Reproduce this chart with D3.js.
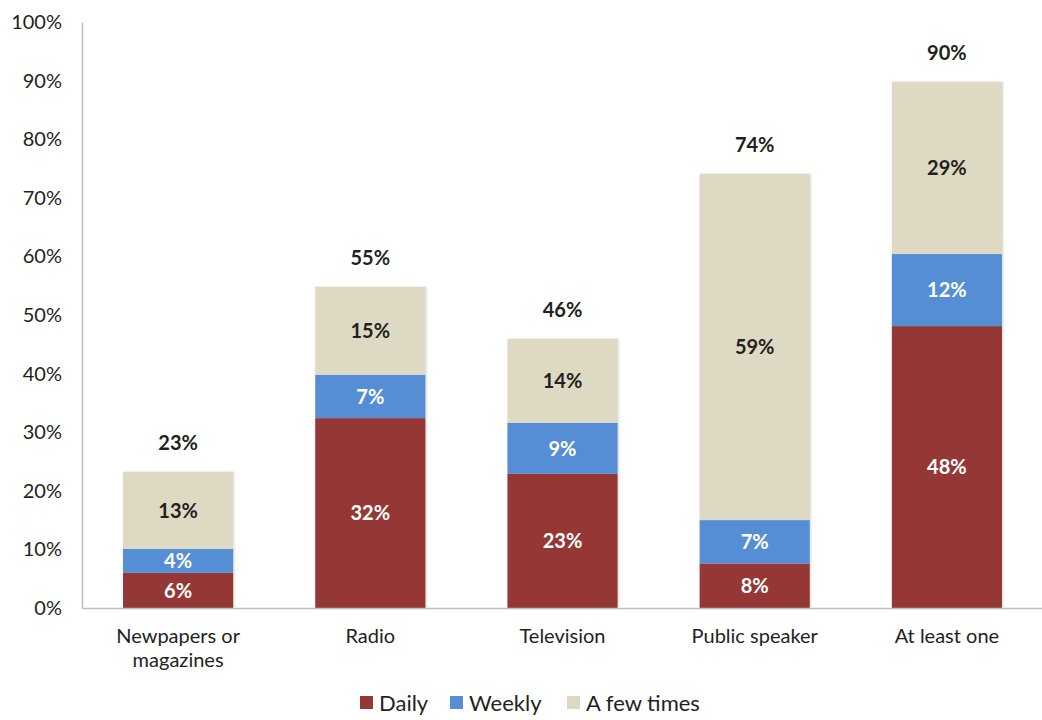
<!DOCTYPE html>
<html lang="en">
<head>
    <meta charset="UTF-8">
    <title>Media exposure</title>
    <style>
        body { margin: 0; background: #fff; }
        text { font-family: Lato, "Open Sans", sans-serif; fill: #231f20; }
    </style>
</head>
<body>
    <div class="container"></div>
    <script src="https://cdn.jsdelivr.net/npm/d3@7"></script>
    <script>
        const categories = [["Newpapers or", "magazines"], ["Radio"], ["Television"], ["Public speaker"], ["At least one"]]
        const seriesNames = ["Daily", "Weekly", "A few times"]
        const daily = [6.0, 32.4, 22.9, 7.6, 48.1]
        const weekly = [4.1, 7.4, 8.7, 7.4, 12.3]
        const fewTimes = [13.1, 15.0, 14.3, 59.1, 29.4]
        const yTicks = [0, 10, 20, 30, 40, 50, 60, 70, 80, 90, 100]
        const colors = ["#953735", "#558ed5", "#ddd9c3"]
        const labelColors = ["#fff", "#fff", "#231f20"]

        const width = 1042
        const height = 720
        const margin = {top: 22, right: 0, bottom: 112, left: 82}

        const svg = d3.select(".container").append("svg")
            .attr("width", width)
            .attr("height", height)

        const keys = categories.map(c => c.join(" "))
        const rows = keys.map((k, i) => ({key: k, Daily: daily[i], Weekly: weekly[i], "A few times": fewTimes[i]}))
        const stacked = d3.stack().keys(seriesNames)(rows)
        const totals = rows.map(r => r.Daily + r.Weekly + r["A few times"])

        const x = d3.scaleBand()
            .domain(keys)
            .range([margin.left, width + 1])
            .paddingInner(0.427)
            .paddingOuter(0.2135)

        const y = d3.scaleLinear()
            .domain([0, 100])
            .range([height - margin.bottom, margin.top])

        const fmt = v => Math.round(v) + "%"

        // shadow filter for bars
        const defs = svg.append("defs")
        const f = defs.append("filter").attr("id", "shadow").attr("x", "-10%").attr("y", "-10%").attr("width", "120%").attr("height", "120%")
        f.append("feDropShadow").attr("dx", 1).attr("dy", 0).attr("stdDeviation", 1).attr("flood-color", "#000").attr("flood-opacity", 0.18)

        // axes
        const leftAxis = d3.axisLeft(y).tickValues(yTicks).tickFormat(d => d + "%").tickSize(0).tickPadding(20)
        const gy = svg.append("g").attr("transform", `translate(${margin.left},0)`).call(leftAxis)
        gy.select(".domain").attr("stroke", "#bfbfbf").attr("stroke-width", 1.5)
        gy.selectAll("text").attr("font-size", 20).style("fill", "#231f20")

        const bars = svg.append("g").attr("filter", "url(#shadow)")
        stacked.forEach((s, si) => {
            bars.append("g").attr("fill", colors[si])
                .selectAll("rect").data(s).join("rect")
                .attr("x", d => x(d.data.key))
                .attr("y", d => y(d[1]))
                .attr("width", x.bandwidth())
                .attr("height", d => y(d[0]) - y(d[1]))
        })

        const bottomAxis = d3.axisBottom(x).tickSize(0).tickFormat("")
        const gx = svg.append("g").attr("transform", `translate(0,${y(0)})`).call(bottomAxis)
        gx.select(".domain").attr("stroke", "#bfbfbf").attr("stroke-width", 1.5)

        // category labels
        const catG = svg.append("g")
        categories.forEach((lines, i) => {
            const t = catG.append("text")
                .attr("x", x(keys[i]) + x.bandwidth() / 2)
                .attr("y", y(0) + 35)
                .attr("text-anchor", "middle")
                .attr("font-size", 20)
            lines.forEach((l, li) => t.append("tspan").attr("x", x(keys[i]) + x.bandwidth() / 2).attr("dy", li ? 24 : 0).text(l))
        })

        // segment labels
        stacked.forEach((s, si) => {
            svg.append("g").selectAll("text").data(s).join("text")
                .attr("x", d => x(d.data.key) + x.bandwidth() / 2)
                .attr("y", d => (y(d[0]) + y(d[1])) / 2)
                .attr("dy", "0.36em")
                .attr("text-anchor", "middle")
                .attr("font-size", 20)
                .attr("font-weight", "bold")
                .style("fill", labelColors[si])
                .text(d => fmt(d[1] - d[0]))
        })

        // totals
        svg.append("g").selectAll("text").data(totals).join("text")
            .attr("x", (d, i) => x(keys[i]) + x.bandwidth() / 2)
            .attr("y", d => y(d) - 29)
            .attr("dy", "0.36em")
            .attr("text-anchor", "middle")
            .attr("font-size", 20)
            .attr("font-weight", "bold")
            .text(d => fmt(d))

        // legend
        const legendX = [360, 450, 567]
        const legend = svg.append("g")
        seriesNames.forEach((n, i) => {
            legend.append("rect").attr("x", legendX[i]).attr("y", 696).attr("width", 13).attr("height", 13).attr("fill", colors[i])
            legend.append("text").attr("x", legendX[i] + 19).attr("y", 703).attr("dy", "0.36em").attr("font-size", 22).text(n)
        })
    </script>
</body>
</html>
